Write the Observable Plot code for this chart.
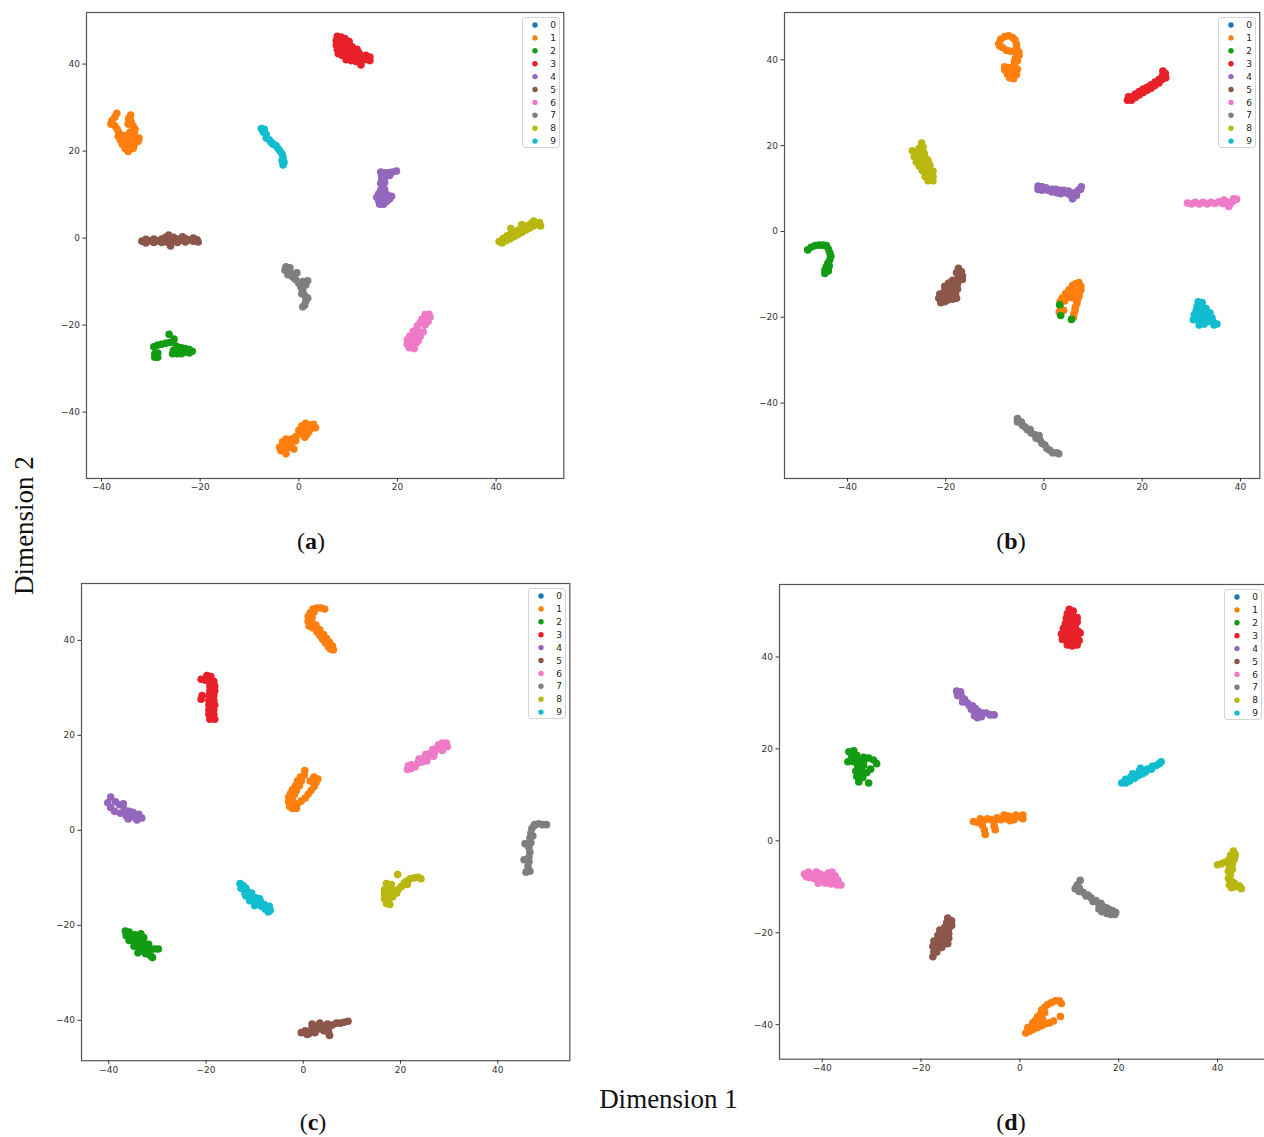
<!DOCTYPE html>
<html>
<head>
<meta charset="utf-8">
<script src="https://cdn.jsdelivr.net/npm/d3@7"></script>
<script src="https://cdn.jsdelivr.net/npm/@observablehq/plot@0.6"></script>
<style>
  html, body { margin: 0; padding: 0; background: #fff; }
  #fig { position: relative; width: 1264px; height: 1137px; overflow: hidden; background: #fff; }
  #fig > svg { position: absolute; }
</style>
</head>
<body>
<div id="fig"></div>
<script>
// Class labels, their colours and the shared tick values
const digits = [0, 1, 2, 3, 4, 5, 6, 7, 8, 9];
const digitColors = ["#1f77b4", "#ff7f0e", "#139c13", "#e8202a", "#9467bd",
                     "#8c564b", "#ee7ac8", "#7f7f7f", "#b8b810", "#12bdd0"];
const tickValues = [-40, -20, 0, 20, 40];

// t-SNE embeddings, one list of [dimension 1, dimension 2] points per class cluster
const panelA = [
  [1, [[-36.9,28.7],[-37.3,27.8],[-37.9,27],[-38.1,26.2],[-37.3,25.8],[-36.8,25],[-36.5,24.2],[-34.1,28.3],[-34.5,27.5],[-34,26.8],[-34.6,26.2],[-33.6,25.8],[-33.2,25],[-33.4,24.2],[-34.2,24.4],[-36.6,23.4],[-35.8,23.6],[-35,23.6],[-34.2,23.4],[-33.2,23.2],[-32.4,23],[-36.2,22.6],[-35.4,22.6],[-34.6,22.6],[-33.6,22.4],[-32.6,22.2],[-35.8,21.6],[-35,21.6],[-34.2,21.6],[-33.4,21.4],[-35.2,20.6],[-34.4,20.6],[-33.6,20.6],[-34.6,19.9]]],
  [1, [[-3.6,-48.9],[-2.6,-49.6],[-3.9,-48.1],[-2.9,-48.3],[-2,-48.1],[-1,-48.5],[-3.3,-46.8],[-2.4,-47.2],[-1.4,-47],[-1.5,-46.2],[-0.6,-45.6],[0.2,-45],[0,-44.2],[0.8,-44.8],[1.2,-45.8],[1.6,-45.2],[1.4,-44],[0.6,-43.2],[1.4,-42.6],[2.2,-43],[3,-42.8],[3.4,-43.6],[2.4,-43.8],[2,-44.6],[-0.6,-46.6],[-1.8,-47.6],[-2.6,-46.2]]],
  [2, [[-26.3,-22.1],[-25.3,-23.2],[-29.4,-25],[-28.6,-24.6],[-27.8,-24.4],[-27,-24.2],[-26.2,-24],[-25.4,-24],[-25.4,-25.8],[-25.6,-26.6],[-24.6,-25],[-24.6,-25.8],[-24.6,-26.6],[-23.8,-25.2],[-23.8,-26],[-23.8,-26.6],[-23,-25.4],[-23,-26.2],[-22.2,-25.6],[-22.2,-26.4],[-21.6,-26],[-29.2,-26.6],[-28.6,-27.4],[-28.6,-26.4],[-29.2,-27.4]]],
  [3, [[7.8,46.4],[8.6,46.2],[9.4,45.8],[10.2,45.2],[7.6,45.4],[8.4,45.2],[9.2,44.8],[10,44.2],[10.8,44],[7.6,44.4],[8.4,44.2],[9.2,43.8],[10,43.2],[10.8,43.2],[11.8,43.4],[7.8,43.4],[8.6,43.2],[9.4,42.8],[10.4,42.4],[11.4,42.4],[12.2,42.6],[8,42.4],[8.8,42],[9.8,41.8],[10.8,41.6],[11.8,41.6],[12.6,41.8],[13.6,42],[14.4,41.6],[9.6,41],[10.6,40.8],[11.6,40.6],[12.4,40.6],[12.6,39.8],[13.4,41],[14.4,40.8]]],
  [4, [[16.6,15.2],[17.4,15],[18.2,15],[19,15.2],[19.8,15.4],[16.8,14.4],[17.6,14.2],[18.4,14.4],[16.8,13.4],[17.4,12.8],[16.6,12.6],[17,11.8],[17.4,11.2],[16.6,11],[16.2,10.2],[17,10.2],[17.8,10],[18.4,9.6],[15.8,9.4],[16.6,9.4],[17.4,9.2],[18.4,9],[18.8,9.6],[16.2,8.6],[17,8.4],[17.8,8.4],[16.4,7.8],[17.2,7.8]]],
  [5, [[-31.8,-0.7],[-31,-0.3],[-31,-1.1],[-30.2,-0.6],[-29.4,-0.2],[-29.4,-1],[-28.6,-0.6],[-27.8,-0.2],[-27.8,-1],[-27,0.2],[-27,-0.8],[-26.4,0.7],[-26.2,-0.2],[-26.2,-1.2],[-26,-1.8],[-25.4,-0.6],[-25.4,0.2],[-24.6,-0.2],[-24.6,-1],[-23.8,-0.5],[-23.6,0.3],[-23,-0.1],[-23,-0.9],[-22.2,-0.4],[-21.4,0],[-21.4,-0.7],[-20.6,-0.4],[-20.4,-0.9]]],
  [6, [[22.4,-25.2],[23.4,-25.4],[22,-24.4],[23,-24.4],[23.9,-24],[22,-23.4],[22.9,-23.4],[23.8,-23],[24.6,-22.6],[22.5,-22.5],[23.4,-22.2],[24.4,-21.8],[25.2,-21.6],[23.2,-21.4],[24,-21],[24,-20.2],[25.6,-20],[24.6,-19.4],[25.4,-19.2],[26.2,-19.2],[25,-18.6],[25.8,-18.4],[26.6,-18.2],[25.6,-17.6],[26.4,-17.5],[24.2,-23.6]]],
  [7, [[-2.6,-6.6],[-1.8,-6.8],[-2.8,-7.4],[-2,-7.6],[-1.4,-8.2],[-0.4,-8],[-2.2,-8.4],[-1.2,-9],[-0.6,-9.6],[0,-10.4],[0.8,-10],[1.8,-9.8],[1.4,-10.8],[0.4,-11.2],[0.8,-12],[0.6,-12.8],[1.2,-13.2],[1.8,-13.8],[1.4,-14.6],[1.2,-15.4],[0.8,-15.8],[-1.2,-8.4]]],
  [8, [[40.6,-0.8],[41.2,-1.1],[41.4,-0.1],[42,-0.6],[42.2,0.5],[42.8,-0.2],[43,1],[43.6,0.3],[43.8,1.4],[44.4,0.8],[44.6,1.9],[45.2,1.3],[45.4,2.3],[46,1.8],[46.2,2.8],[46.8,2.3],[47,3.3],[47.6,2.8],[47.8,3.6],[48.4,3.2],[48.8,3.6],[49,2.8],[43,2.2],[45.2,3.1],[47.6,3.9]]],
  [9, [[-7.6,25.2],[-7,25],[-7.2,24.4],[-6.6,23.8],[-6.6,23],[-6,22.6],[-5.6,22],[-5.2,21.6],[-4.6,21.2],[-4.2,20.6],[-3.8,20],[-3.4,19.4],[-3.2,18.6],[-3.4,17.8],[-3,17.4],[-3.2,16.8]]]
];

const panelB = [
  [1, [[-9.2,43.8],[-8.8,44.8],[-8,45.4],[-7.2,45.6],[-6.4,45.2],[-5.9,44.6],[-5.6,43.6],[-5.6,42.8],[-5.1,41.8],[-5.1,41],[-6,42],[-6.8,42],[-7.6,42.2],[-8.4,42.8],[-9,43.2],[-5.8,40.4],[-6,39.6],[-6,38.8],[-6.2,38],[-6.2,37.2],[-6.4,36.4],[-6.2,35.6],[-7,35.8],[-7.4,36.6],[-8,37.6],[-8,38.4],[-7.2,38.2],[-6.8,37.4],[-5.4,39.8],[-5.4,37.8],[-5.6,36.6]]],
  [1, [[7.1,-11.9],[7.5,-12.8],[7.5,-13.6],[7.2,-14.4],[7.1,-15.2],[6.8,-16],[6.7,-16.8],[6.4,-17.6],[6.3,-18.4],[6.1,-19.2],[6,-20],[5.8,-12.6],[6.4,-12.2],[5.1,-13.6],[6.2,-13.6],[4.4,-14.5],[5.4,-14.6],[6.2,-14.6],[3.7,-15.5],[4.6,-15.4],[5.5,-15.4],[3.3,-16.4],[4.2,-16.2],[3.3,-17.2],[3.4,-18],[3.1,-18.8],[4,-18.4],[6.2,-15.6]]],
  [2, [[-48.1,-4.3],[-47.4,-3.7],[-46.6,-3.3],[-45.8,-3.2],[-45,-3.2],[-44.3,-3.3],[-43.9,-4.1],[-43.6,-5],[-43.4,-5.8],[-43.6,-6.6],[-44,-7.4],[-44.3,-8.2],[-44.6,-9],[-44.6,-9.8],[-43.9,-9.2],[-43.7,-8],[3.2,-17.1],[3.4,-19.6],[5.6,-20.5]]],
  [3, [[17,30.6],[17.2,31.4],[17.8,30.6],[18,31.4],[18.6,31.2],[18.6,32],[19.4,31.8],[19.4,32.6],[20.2,32.4],[20.2,33.2],[21,32.9],[21,33.6],[21.8,33.4],[21.8,34.2],[22.6,34],[22.6,34.8],[23.4,34.6],[23.4,35.4],[24,35.4],[24.1,36.2],[24.8,35.8],[24.7,36.8],[24.2,37.4]]],
  [4, [[-1.2,10.6],[-1.2,9.8],[-0.4,10.4],[-0.4,9.6],[0.4,10.2],[0.8,9.6],[1.6,9.8],[1.6,9.2],[2.4,9.8],[2.6,9],[3.2,9.6],[3.4,8.8],[4,9.6],[4.4,9],[5,9.4],[5.2,8.6],[5.8,8.2],[5.8,7.6],[6.2,9],[6.6,8.4],[7,9.6],[7.6,10.4],[7.4,9.8]]],
  [5, [[-17.4,-8.6],[-16.8,-9.4],[-17.8,-9.6],[-16.6,-10.4],[-17.4,-10.6],[-16.6,-11.2],[-17.6,-11.4],[-18.6,-11.4],[-18.4,-12.2],[-19.4,-12],[-17.6,-12.2],[-20.2,-12.8],[-19.2,-12.8],[-18.8,-13.6],[-20.2,-13.8],[-17.6,-13.4],[-21.2,-14.6],[-20.2,-14.8],[-19.2,-14.4],[-18,-14.6],[-21.4,-15.6],[-20.6,-15.8],[-19.6,-16],[-18.6,-15.8],[-17.8,-15.6],[-21,-16.6],[-20.2,-16.4]]],
  [6, [[29.2,6.6],[30,6.4],[30.8,6.8],[31.6,6.4],[32.4,6.8],[33.2,6.4],[34,6.8],[34.8,6.5],[35.6,6.9],[36.4,6.5],[37.2,6.9],[37.8,6.2],[37.6,5.8],[38.4,7],[39.2,7.5],[38.6,7.6],[36.6,7.3]]],
  [7, [[-5.4,-43.6],[-5.4,-44.4],[-4.6,-44.4],[-4.4,-45.2],[-3.8,-45.6],[-3.4,-46.2],[-2.8,-46.2],[-2.6,-47],[-1.8,-47.4],[-1.6,-48.2],[-0.8,-48.6],[-0.4,-49.4],[0.2,-49.8],[0.6,-50.6],[1.2,-51],[1.8,-51.6],[2.6,-51.6],[3,-51.8],[-1,-47.6]]],
  [8, [[-24.9,20.6],[-24.6,19.6],[-25.4,19.4],[-26.8,18.8],[-25.8,18.4],[-24.4,18.2],[-26.4,17.4],[-25.4,17.4],[-24.2,17.2],[-23.6,16.6],[-26,16.2],[-25,16.2],[-24.2,16],[-23.2,15.4],[-25.4,15.2],[-24.4,15],[-23.4,14.6],[-22.6,14],[-24.8,14.2],[-24,13.6],[-23.2,13.4],[-24.2,12.8],[-23.2,12.4],[-22.6,12.8],[-23.6,11.8],[-22.6,11.8]]],
  [9, [[31.4,-16.4],[32.2,-16.6],[31.2,-17.4],[32.2,-17.6],[33,-18],[31,-18.4],[32,-18.6],[33,-19],[30.6,-19.4],[31.6,-19.6],[32.6,-20],[33.6,-20],[30.4,-20.6],[31.4,-20.6],[32.4,-21],[33.4,-21],[34.4,-21],[35.2,-21.6],[31.6,-21.8],[34.2,-20.2],[33.8,-19],[34.6,-21.8],[32.6,-21.6]]]
];

const panelC = [
  [1, [[2,46.6],[2.8,46.8],[3.6,46.8],[4.4,46.6],[1.4,45.8],[2.2,45.9],[1,45],[1.8,44.8],[1,44],[1.8,43.8],[1.2,43],[2,42.6],[2.6,43.2],[2.8,41.8],[3.4,42.2],[3.4,41],[4.2,41.2],[4,40.2],[4.8,40.4],[4.6,39.4],[5.4,39.6],[5.2,38.6],[6,38.8],[6.2,38],[5.6,38.2]]],
  [1, [[0.3,12.6],[0.2,11.6],[-0.6,11.2],[-1.2,10.4],[-0.4,10.4],[-1.6,9.4],[-0.8,9.4],[-2.2,8.6],[-1.4,8.4],[-2.6,7.8],[-1.8,7.6],[-3,7],[-2.2,6.8],[-3,6],[-2.2,6],[-2.8,5],[-2,5.2],[-2.2,4.6],[-1.4,4.6],[-1.2,5.6],[-0.4,6.2],[0.4,6.8],[1,7.6],[1.6,8.4],[2.2,9.2],[2.6,10],[3,10.8],[2.2,11.2],[1.4,10.4]]],
  [2, [[-36.6,-21.2],[-35.8,-21.4],[-36.4,-22.2],[-35.4,-22.4],[-34.6,-22],[-33.4,-21.8],[-35.8,-23.2],[-34.8,-23.4],[-33.8,-23],[-32.8,-22.6],[-34.8,-24.4],[-33.8,-24.4],[-32.8,-23.8],[-31.8,-24],[-33.6,-25.4],[-32.6,-25],[-31.6,-25.2],[-30.6,-25],[-29.8,-25],[-32.4,-26],[-31.4,-26.4],[-31,-26.8],[-34,-25.8]]],
  [3, [[-19.8,32.6],[-19,32.4],[-21,31.8],[-20.2,31.6],[-19.4,31.6],[-18.4,31.4],[-18.2,30.4],[-19.2,30.4],[-18.2,29.4],[-19.2,29.4],[-20.8,28.4],[-21,27.6],[-19.4,28.4],[-18.4,28.4],[-19.4,27.4],[-18.4,27.4],[-19.4,26.4],[-18.2,26.4],[-19.4,25.4],[-18.4,25.4],[-19.4,24.4],[-18.4,24.4],[-19.2,23.4],[-18.2,23.4]]],
  [4, [[-39.6,7],[-40.2,5.8],[-39.6,4.8],[-38.8,4],[-38.6,6],[-37.8,5.4],[-37,5.6],[-36.8,4.4],[-37.6,3.6],[-36.4,3],[-35.8,4],[-35.4,2.8],[-35,3.8],[-34.4,3],[-33.8,3.4],[-33.2,2.6],[-34.2,2.2],[-36,2.4]]],
  [5, [[-0.4,-42.6],[0.4,-42.2],[1.2,-42.8],[1.8,-41.6],[1.8,-40.8],[2.6,-41.2],[3.2,-41.8],[2.4,-42.6],[3.4,-40.6],[4.2,-41.2],[5,-40.8],[5.2,-41.8],[5.2,-42.6],[5.4,-43.2],[6,-41],[6.8,-40.6],[7.6,-40.6],[8.4,-40.4],[9.2,-40.2],[4.2,-42.2],[0.8,-43]]],
  [6, [[21.4,12.8],[22.2,13],[23,13.4],[23.6,14.2],[24.4,14.4],[24.8,15.2],[25.6,15.4],[26.2,16.2],[27,16.4],[27.4,17.2],[28.2,17.4],[28.6,18.4],[29.4,18.4],[29.6,17.6],[22.2,13.8],[23.8,15],[25.2,16],[26.6,17],[27.8,18],[28.6,16.8],[26.8,15.6],[21.6,13.6],[25.4,14.6]]],
  [7, [[47.6,1.2],[48.4,1.4],[49.2,1.2],[50,1.2],[47,0.4],[46.8,-0.6],[46.6,-1.6],[46.8,-2.6],[45.6,-2.8],[46.4,-3.6],[46.6,-4.6],[46.4,-5.6],[45.4,-6.2],[46.4,-6.6],[46.2,-7.6],[46.6,-8.6],[45.8,-8.8],[47.4,0.9],[47.2,-1.2]]],
  [8, [[16.7,-12.5],[16.7,-13.4],[16.7,-14.4],[17.1,-15.4],[17.8,-15.6],[17.1,-11.2],[17.8,-12],[18.1,-11.4],[18.6,-12.6],[18,-13.4],[17.6,-14.4],[18.4,-14],[19.2,-13.2],[19.6,-12.4],[20.2,-11.8],[20.8,-11],[21.4,-10.6],[22,-10.2],[22.8,-10],[23.6,-9.9],[24.2,-10.2],[21.4,-11.4],[19.4,-9.3]]],
  [9, [[-13,-11.2],[-12.4,-11.6],[-12.8,-12.2],[-11.8,-12.2],[-11.4,-13],[-12,-13.2],[-10.6,-13.2],[-10.6,-14],[-11,-14.8],[-9.8,-14.2],[-9.6,-15],[-10,-15.8],[-8.8,-15],[-8.6,-16],[-8,-15.6],[-7.8,-16.6],[-7,-16],[-6.8,-16.8],[-7.2,-17.2],[-11.8,-13.8],[-9,-14.4]]]
];

const panelD = [
  [1, [[-9.4,4.2],[-8.6,4],[-8,4.8],[-7.4,4.4],[-6.6,4.8],[-5.8,4.6],[-5.2,4.2],[-4.6,5],[-3.8,4.6],[-3,4.8],[-2.4,5.4],[-1.6,5.2],[-0.8,5.6],[-0.2,5.2],[0.6,5.6],[0.6,4.8],[-2,4.4],[-1.2,4.6],[-7.6,3.4],[-7.2,2.4],[-7,1.4],[-5.2,3.2],[-5,2.4],[-3.2,5.6]]],
  [1, [[1.2,-41.8],[2,-41.4],[1.6,-40.6],[2.4,-40.4],[2.6,-39.6],[3.2,-39],[3.6,-38.2],[4.2,-37.6],[4.4,-36.8],[5,-36.2],[5.6,-35.6],[6.4,-35.2],[7.2,-34.8],[8,-34.8],[8.4,-35.4],[2.8,-41],[3.6,-40.6],[4.4,-40.2],[5.2,-39.8],[6,-39.6],[6.8,-39.2],[8.2,-38.2],[4.6,-38.8],[3.6,-39.6],[5,-37.4]]],
  [2, [[-34.6,19.4],[-33.6,19.6],[-34,18.4],[-33,18.6],[-31.6,18.2],[-30.6,18],[-29.6,17.6],[-34.8,17.2],[-33.6,17.2],[-32.6,17.4],[-29,16.8],[-32.8,16.2],[-31.6,16.4],[-33.2,15.2],[-32,15.2],[-31,14.8],[-33,14],[-31.8,13.8],[-32.6,12.8],[-30.6,12.6],[-30.2,15.6],[-31.6,17.4]]],
  [3, [[10,50.4],[10.8,50],[9.6,49.4],[10.6,49.2],[11.6,48.6],[9.4,48.4],[10.4,48.2],[11.6,47.6],[9.2,47.2],[10.2,47],[11.2,46.8],[8.8,46.2],[9.8,46],[10.8,45.8],[11.8,45.6],[8.4,45],[9.4,44.8],[10.4,44.6],[11.6,44.6],[12.2,45.2],[9,43.8],[10,43.6],[11,43.4],[12,43.6],[9.6,42.6],[10.6,42.4],[11.6,42.6],[8.6,43.8]]],
  [4, [[-12.8,32.6],[-12,32.4],[-12.6,31.6],[-11.8,31.4],[-11.2,30.8],[-11.6,30.2],[-10.6,30],[-10.2,29.4],[-9.6,29.4],[-9.8,28.6],[-9,28.8],[-9,28],[-8.4,28.2],[-7.6,27.8],[-6.8,27.8],[-6,27.4],[-5.2,27.4],[-9.2,27.2],[-8.6,26.8],[-7.8,27]]],
  [5, [[-14.6,-16.8],[-13.8,-17.4],[-14.8,-17.8],[-13.8,-18.4],[-15.2,-18.8],[-14.4,-19.2],[-16.2,-19.4],[-15.4,-20],[-14.4,-20.2],[-16.6,-20.6],[-15.6,-21],[-14.4,-21.2],[-17.4,-21.8],[-16.4,-22],[-15.4,-22.4],[-14.6,-22.4],[-17.6,-23],[-16.8,-23.2],[-15.8,-23.2],[-17.4,-24.2],[-17.6,-25.2],[-16.8,-24.2]]],
  [6, [[-43.6,-7.2],[-42.8,-6.8],[-42,-7.4],[-41.2,-6.8],[-40.4,-7.2],[-39.6,-7.6],[-38.8,-7],[-38,-6.8],[-37.4,-7.6],[-42.6,-8],[-41.6,-8.2],[-40.6,-8.4],[-39.6,-8.6],[-38.6,-8.4],[-37.6,-8.6],[-36.8,-8.6],[-36.2,-9.6],[-37,-9.6],[-38.2,-9.4],[-39.4,-9.2],[-40.8,-9.2],[-43.2,-7.8]]],
  [7, [[12.2,-8.6],[11.6,-9.6],[11.2,-10.4],[12,-10.2],[12,-11],[12.8,-11.2],[13.4,-12],[13.8,-11.8],[14.4,-12.4],[14.8,-13.2],[15.4,-13],[16,-13.8],[16.4,-13.6],[17,-14.4],[17.6,-14.6],[18.2,-15],[18.8,-15.2],[19.4,-15.6],[19.2,-16],[18.4,-16],[17.6,-15.8],[16.6,-15.4],[16,-14.8]]],
  [8, [[43.2,-2.2],[43.6,-3],[42.6,-3.2],[43.4,-4],[42.4,-4],[41.6,-4.6],[40.8,-5],[40,-5.2],[43,-5],[42.4,-5.6],[43,-6.2],[42.2,-6.6],[42.6,-7.4],[42.2,-8.2],[42.8,-8.8],[42.4,-9.6],[42.8,-10.2],[43.6,-10],[44.4,-9.8],[44.8,-10.4],[43.4,-9.2]]],
  [9, [[20.6,12.6],[21.4,12.6],[21.4,13.4],[22.2,13],[22.4,13.8],[23.2,13.6],[23.4,14.4],[24,14.2],[24.2,15.2],[24.4,15.8],[24.8,14.6],[25.4,15],[25.8,15.6],[26.6,15.6],[26.8,16.2],[27.6,16.4],[28.2,16.8],[28.6,17.2],[22.8,14.6]]]
];

// Page placement of each panel's frame and its axis domains
const panels = [
  {clusters: panelA, left: 85.7, right: 563, top: 11.7, bottom: 477.7, x: [-43.04, 53.72], y: [-55.26, 51.86]},
  {clusters: panelB, left: 783.7, right: 1259, top: 11.7, bottom: 477.7, x: [-52.82, 43.93], y: [-57.58, 51.03]},
  {clusters: panelC, left: 81, right: 569.3, top: 582.5, bottom: 1059.7, x: [-45.6, 54.8], y: [-48.5, 51.97]},
  {clusters: panelD, left: 779, right: 1264.5, top: 584, bottom: 1058.7, x: [-48.64, 49.6], y: [-47.5, 55.77]}
];

const fig = document.getElementById("fig");
const minus = d => (d < 0 ? "\u2212" + Math.abs(d) : String(d));

// Captions and shared axis titles
const captionSvg = d3.create("svg")
  .attr("width", 1264).attr("height", 1137)
  .style("left", "0px").style("top", "0px")
  .attr("font-family", "'Liberation Serif', 'DejaVu Serif', serif")
  .attr("fill", "#111");
const captions = [["a", 311, 548.5], ["b", 1011, 548.5], ["c", 313, 1129.5], ["d", 1011, 1129.5]];
for (const [letter, cx, cy] of captions) {
  const t = captionSvg.append("text").attr("x", cx).attr("y", cy)
    .attr("text-anchor", "middle").attr("font-size", 24);
  t.append("tspan").text("(");
  t.append("tspan").attr("font-weight", "bold").text(letter);
  t.append("tspan").text(")");
}
captionSvg.append("text").attr("x", 668.5).attr("y", 1108.3)
  .attr("text-anchor", "middle").attr("font-size", 27).text("Dimension 1");
captionSvg.append("text").attr("transform", "translate(33.3,525.5) rotate(-90)")
  .attr("text-anchor", "middle").attr("font-size", 27).text("Dimension 2");
fig.appendChild(captionSvg.node());

const mL = 40, mR = 8, mT = 8, mB = 26;
for (const p of panels) {
  const points = p.clusters.flatMap(([digit, pts]) => pts.map(([x, y]) => ({x, y, digit})));
  const w = p.right - p.left, h = p.bottom - p.top;
  const chart = Plot.plot({
    width: w + mL + mR,
    height: h + mT + mB,
    marginLeft: mL, marginRight: mR, marginTop: mT, marginBottom: mB,
    x: {domain: p.x},
    y: {domain: p.y},
    color: {domain: digits, range: digitColors},
    style: {fontFamily: "'DejaVu Sans', sans-serif", fontSize: "9px", color: "#333", background: "transparent"},
    marks: [
      Plot.dot(points, {x: "x", y: "y", fill: "digit", r: 3.8}),
      Plot.frame({stroke: "#555", strokeWidth: 1.2}),
      Plot.axisX({ticks: tickValues, tickSize: 3.5, tickPadding: 2, tickFormat: minus, label: null}),
      Plot.axisY({ticks: tickValues, tickSize: 3.5, tickPadding: 3, tickFormat: minus, label: null})
    ]
  });
  chart.style.position = "absolute";
  chart.style.left = (p.left - mL) + "px";
  chart.style.top = (p.top - mT) + "px";
  chart.style.maxWidth = "none";
  fig.appendChild(chart);

  // Legend box in the upper-right corner of the frame
  const lw = 37, lh = 130, rowStep = 12.9;
  const legend = d3.create("svg")
    .attr("width", lw + 2).attr("height", lh + 2)
    .style("left", (p.right - 4 - lw) + "px")
    .style("top", (p.top + 5) + "px")
    .attr("font-family", "'DejaVu Sans', sans-serif").attr("font-size", 9);
  legend.append("rect").attr("x", 0.5).attr("y", 0.5).attr("width", lw).attr("height", lh)
    .attr("rx", 2.5).attr("fill", "white").attr("fill-opacity", 0.85)
    .attr("stroke", "#d4d4d4").attr("stroke-width", 1);
  const rows = legend.selectAll("g").data(digits).join("g")
    .attr("transform", (d, i) => `translate(0,${8 + i * rowStep})`);
  rows.append("circle").attr("cx", 13).attr("cy", 0).attr("r", 2.7).attr("fill", (d, i) => digitColors[i]);
  rows.append("text").attr("x", 31).attr("y", 0).attr("dy", "0.35em")
    .attr("text-anchor", "middle").attr("fill", "#222").text(d => String(d));
  fig.appendChild(legend.node());
}
</script>
</body>
</html>
